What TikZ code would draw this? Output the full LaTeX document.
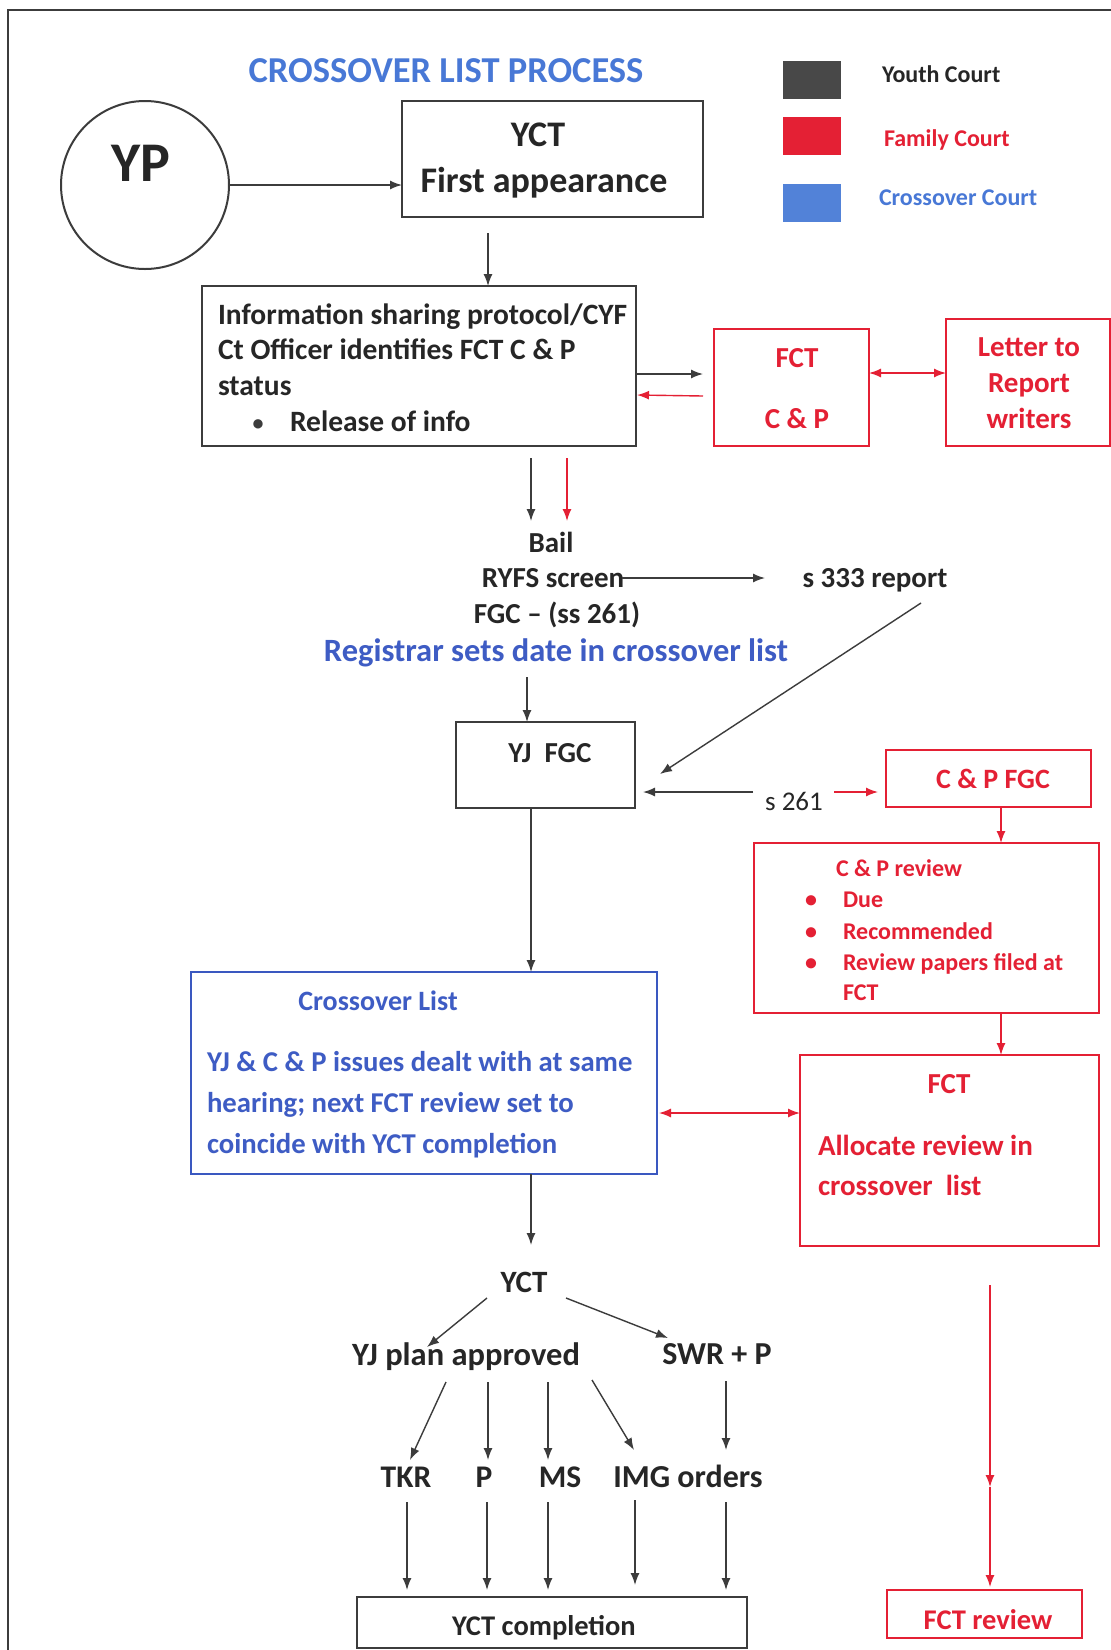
\documentclass[tikz,border=0pt]{standalone}
\usepackage{fontspec}
\setmainfont{Carlito}
\usetikzlibrary{arrows.meta,calc}
\definecolor{ink}{RGB}{38,38,38}
\definecolor{lineg}{RGB}{60,60,60}
\definecolor{redc}{RGB}{228,32,52}
\definecolor{bluet}{RGB}{72,120,214}
\definecolor{blueb}{RGB}{58,88,192}
\definecolor{bluetx}{RGB}{62,92,196}
\definecolor{legblack}{RGB}{72,72,72}
\definecolor{legblue}{RGB}{82,130,216}
\tikzset{
  every node/.style={inner sep=0pt, outer sep=0pt, text=ink, execute at begin node=\strut},
  fs/.style={font=\fontsize{#1}{#1}\selectfont\bfseries, yshift=-3pt},
  fr/.style={font=\fontsize{#1}{#1}\selectfont, yshift=-3pt},
  box/.style={draw=lineg, line width=2.5pt, rectangle},
  rbox/.style={draw=redc, line width=2.5pt, rectangle},
  bbox/.style={draw=blueb, line width=2.5pt, rectangle},
  arr/.style={draw=lineg, line width=1.4pt, -{Latex[length=12pt,width=9pt]}},
  rarr/.style={draw=redc, line width=1.4pt, -{Latex[length=12pt,width=9pt]}},
  rdarr/.style={draw=redc, line width=1.4pt, {Latex[length=12pt,width=9pt]}-{Latex[length=12pt,width=9pt]}},
  framel/.style={draw=lineg, line width=2pt},
}
\begin{document}
\begin{tikzpicture}[x=1pt,y=-1pt]
\useasboundingbox (0,0) rectangle (1111,1650);
\fill[white] (0,0) rectangle (1111,1650);
\draw[framel] (8,1650) -- (8,10) -- (1111,10);

% title and legend
\node[fs=36.5, text=bluet] (title) at (446,72) {CROSSOVER LIST PROCESS};
\node[fill=legblack, minimum width=58, minimum height=38] (legy) at (812,80) {};
\node[fill=redc, minimum width=58, minimum height=38] (legf) at (812,136) {};
\node[fill=legblue, minimum width=58, minimum height=38] (legc) at (812,203) {};
\node[fs=24, anchor=west] (legyt) at (882,75) {Youth Court};
\node[fs=24, anchor=west, text=redc] (legft) at (884,139) {Family Court};
\node[fs=24, anchor=west, text=bluet] (legct) at (879,198) {Crossover Court};

% YP and first appearance
\node[draw=lineg, line width=2pt, circle, minimum size=168] (yp) at (145,185) {};
\node[fs=56] (yplbl) at (141,167) {YP};
\node[box, minimum width=301, minimum height=116] (yct) at (552.5,159) {};
\node[fs=36] (yctt1) at (538,136) {YCT};
\node[fs=36] (yctt2) at (544,182) {First appearance};

% information box
\node[box, minimum width=434, minimum height=160] (info) at (419,366) {};
\node[fs=29.5, anchor=west] (inf1) at (218,316) {Information sharing protocol/CYF};
\node[fs=29.5, anchor=west] (inf2) at (218,351) {Ct Officer identifies FCT C \& P};
\node[fs=29.5, anchor=west] (inf3) at (218,387) {status};
\node[fs=22, text=lineg] (infb) at (258,423) {•};
\node[fs=29.5, anchor=west] (inf4) at (290,423) {Release of info};

% FCT C&P and letter
\node[rbox, minimum width=155, minimum height=117] (fct) at (791.5,387.5) {};
\node[fs=29, text=redc] (fct1) at (797,359) {FCT};
\node[fs=29, text=redc] (fct2) at (797,420) {C \& P};
\node[rbox, minimum width=164, minimum height=127] (letter) at (1028,382.5) {};
\node[fs=29, text=redc] (let1) at (1029,348) {Letter to};
\node[fs=29, text=redc] (let2) at (1029,384) {Report};
\node[fs=29, text=redc] (let3) at (1029,420) {writers};

% middle texts
\node[fs=29] (bail) at (551,544) {Bail};
\node[fs=29] (ryfs) at (553,579) {RYFS screen};
\node[fs=29] (fgc) at (557,614) {FGC – (ss 261)};
\node[fs=29] (s333) at (875,579) {s 333 report};
\node[fs=32.5, text=bluetx] (reg) at (556,652) {Registrar sets date in crossover list};

% YJ FGC and C&P FGC
\node[box, minimum width=179, minimum height=86] (yjfgc) at (545.5,765) {};
\node[fs=29] (yjfgct) at (550,754) {YJ~~FGC};
\node[fr=27] (s261) at (794,802) {s 261};
\node[rbox, minimum width=205, minimum height=57] (cpfgc) at (988.5,778.5) {};
\node[fs=28, text=redc] (cpfgct) at (993,780) {C \& P FGC};

% C&P review
\node[rbox, minimum width=345, minimum height=170] (cprev) at (926.5,928) {};
\node[fs=24, anchor=west, text=redc] (cpr0) at (836,869) {C \& P review};
\node[fs=24, text=redc] (cpb1) at (811,900) {•};
\node[fs=24, text=redc] (cpb2) at (811,932) {•};
\node[fs=24, text=redc] (cpb3) at (811,963) {•};
\node[fs=24, anchor=west, text=redc] (cpr1) at (843,900) {Due};
\node[fs=24, anchor=west, text=redc] (cpr2) at (843,932) {Recommended};
\node[fs=24, anchor=west, text=redc] (cpr3) at (843,963) {Review papers filed at};
\node[fs=24, anchor=west, text=redc] (cpr4) at (843,993) {FCT};

% FCT allocate
\node[rbox, minimum width=299, minimum height=191] (fctal) at (949.5,1150.5) {};
\node[fs=29, text=redc] (fctal0) at (949,1085) {FCT};
\node[fs=29, anchor=west, text=redc] (fctal1) at (818,1147) {Allocate review in};
\node[fs=29, anchor=west, text=redc] (fctal2) at (818,1187) {crossover~~list};

% crossover list
\node[bbox, minimum width=466, minimum height=202] (xlist) at (424,1073) {};
\node[fs=28, text=bluetx] (xl0) at (378,1002) {Crossover List};
\node[fs=28.7, anchor=west, text=bluetx] (xl1) at (207,1063) {YJ \& C \& P issues dealt with at same};
\node[fs=28.7, anchor=west, text=bluetx] (xl2) at (207,1104) {hearing; next FCT review set to};
\node[fs=28.7, anchor=west, text=bluetx] (xl3) at (207,1145) {coincide with YCT completion};

% bottom part
\node[fs=31] (yctl) at (524,1283) {YCT};
\node[fs=32.5] (yjplan) at (466,1356) {YJ plan approved};
\node[fs=32] (swr) at (717,1355) {SWR + P};
\node[fs=31.5] (tkr) at (406,1478) {TKR};
\node[fs=31.5] (pl) at (484,1478) {P};
\node[fs=31.5] (ms) at (560,1478) {MS};
\node[fs=32] (img) at (688,1478) {IMG orders};
\node[box, minimum width=390, minimum height=51] (yctc) at (552,1622.5) {};
\node[fs=28.5] (yctct) at (544,1627) {YCT completion};
\node[rbox, minimum width=195, minimum height=48] (fctrev) at (984.5,1614) {};
\node[fs=28.5, text=redc] (fctrevt) at (988,1621) {FCT review};

% connectors
\draw[arr] (yp.east) -- (yct.west |- yp.east);
\draw[arr] ($(yct.south)+(-64.5,16)$) -- ($(info.north)+(69,0)$);
\draw[arr] ($(info.east)+(1,8)$) -- ($(fct.west)+(-11,-13.5)$);
\draw[rarr] ($(fct.west)+(-11,8.5)$) -- ($(info.east)+(1,29)$);
\draw[rdarr] ($(fct.east)+(0,-14.5)$) -- ($(letter.west)+(0,-9.5)$);
\draw[arr] ($(info.south)+(112,12)$) -- ($(bail)+(-20,-26)$);
\draw[rarr] ($(info.south)+(148,12)$) -- ($(bail)+(16,-26)$);
\draw[arr] ($(ryfs)+(69,-4)$) -- ($(s333)+(-110,-4)$);
\draw[arr] ($(reg)+(-29,22)$) -- ($(yjfgc.north)+(-18.5,0)$);
\draw[arr] ($(s333)+(46,21)$) -- ($(yjfgc.east)+(25,9)$);
\draw[arr] ($(s261)+(-41,-13)$) -- ($(yjfgc.east)+(8,27)$);
\draw[rarr] ($(s261)+(40,-13)$) -- ($(cpfgc.west)+(-8,13.5)$);
\draw[rarr] ($(cpfgc.south)+(12.5,1)$) -- ($(cprev.north)+(74.5,0)$);
\draw[rarr] ($(cprev.south)+(74.5,0)$) -- ($(fctal.north)+(51.5,0)$);
\draw[arr] ($(yjfgc.south)+(-14.5,0)$) -- ($(xlist.north)+(107,0)$);
\draw[rdarr] ($(xlist.east)+(2,40)$) -- ($(fctal.west)+(0,-37.5)$);
\draw[arr] ($(xlist.south)+(107,0)$) -- ($(yctl)+(7,-41)$);
\draw[arr] ($(yctl)+(-37,12)$) -- ($(yjplan)+(-39,-12)$);
\draw[arr] ($(yctl)+(42,12)$) -- ($(swr)+(-49,-20)$);
\draw[arr] ($(yjplan)+(-20,23)$) -- ($(tkr)+(4,-21)$);
\draw[arr] ($(yjplan)+(22,23)$) -- ($(pl)+(4,-21)$);
\draw[arr] ($(yjplan)+(82,23)$) -- ($(ms)+(-12,-21)$);
\draw[arr] ($(yjplan)+(126,21)$) -- ($(img)+(-54,-31)$);
\draw[arr] ($(swr)+(9,23)$) -- ($(img)+(38,-31)$);
\draw[arr] ($(tkr)+(1,21)$) -- ($(yctc.north)+(-145,-7)$);
\draw[arr] ($(pl)+(3,21)$) -- ($(yctc.north)+(-65,-7)$);
\draw[arr] ($(ms)+(-12,21)$) -- ($(yctc.north)+(-4,-7)$);
\draw[arr] ($(img)+(-53,19)$) -- ($(yctc.north)+(83,-12)$);
\draw[arr] ($(img)+(38,21)$) -- ($(yctc.north)+(174,-7)$);
\coordinate (rmid) at ($(fctal.south)+(40.5,241)$);
\draw[rarr] ($(fctal.south)+(40.5,39)$) -- (rmid);
\draw[rarr] (rmid) -- ($(fctrev.north)+(5.5,-3)$);
\end{tikzpicture}
\end{document}
